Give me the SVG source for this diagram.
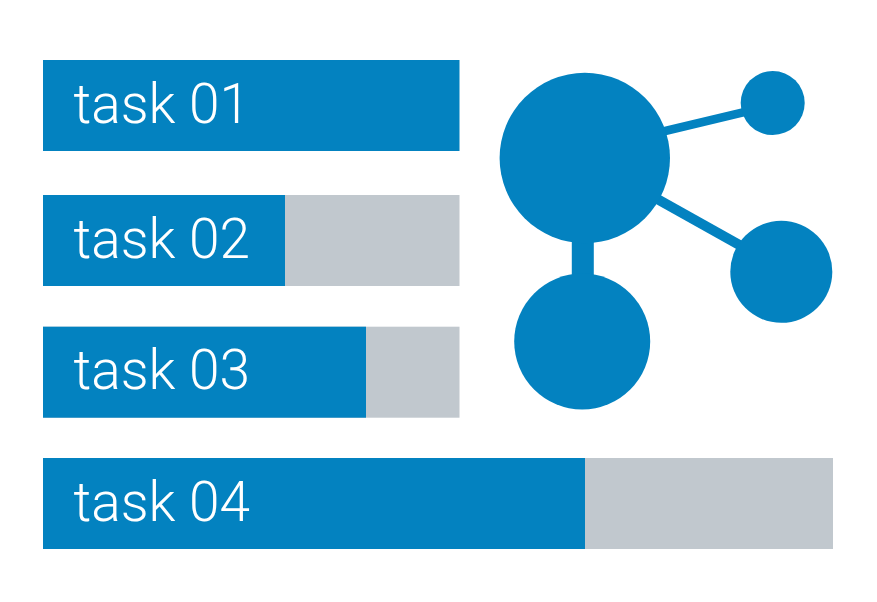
<svg xmlns="http://www.w3.org/2000/svg" width="877" height="602" viewBox="0 0 877 602">
<style>
.b{fill:#0382c0}.g{fill:#c1c8ce}
.t{font-family:Roboto,"Liberation Sans",sans-serif;font-weight:300;font-size:55px;fill:#fff}
.l{stroke:#0382c0;fill:none}
</style>
<rect width="877" height="602" fill="#fff"/>
<g id="connectors">
<line class="l" x1="640" y1="137" x2="770" y2="106" stroke-width="8.500"/>
<line class="l" x1="640" y1="189.400" x2="780" y2="267.700" stroke-width="10"/>
<line class="l" x1="582.800" y1="230" x2="582.800" y2="290" stroke-width="22"/>
</g>
<g id="task1"><rect class="b" x="43" y="60" width="416.500" height="91"/><text class="t" x="73.500" y="123">task 01</text></g>
<g id="task2"><rect class="g" x="43" y="195" width="416.500" height="91"/><rect class="b" x="43" y="195" width="242" height="91"/><text class="t" x="73.500" y="258">task 02</text></g>
<g id="task3"><rect class="g" x="43" y="326.700" width="416.500" height="91"/><rect class="b" x="43" y="326.700" width="323" height="91"/><text class="t" x="73.500" y="389">task 03</text></g>
<g id="task4"><rect class="g" x="43" y="458" width="790" height="91"/><rect class="b" x="43" y="458" width="542" height="91"/><text class="t" x="73.500" y="521">task 04</text></g>
<g id="node-a"><circle class="b" cx="584.800" cy="158" r="85.200"/></g>
<g id="node-b"><circle class="b" cx="772.700" cy="103" r="32"/></g>
<g id="node-c"><circle class="b" cx="781.300" cy="271.800" r="51"/></g>
<g id="node-d"><circle class="b" cx="582.200" cy="341.500" r="68"/></g>
</svg>
